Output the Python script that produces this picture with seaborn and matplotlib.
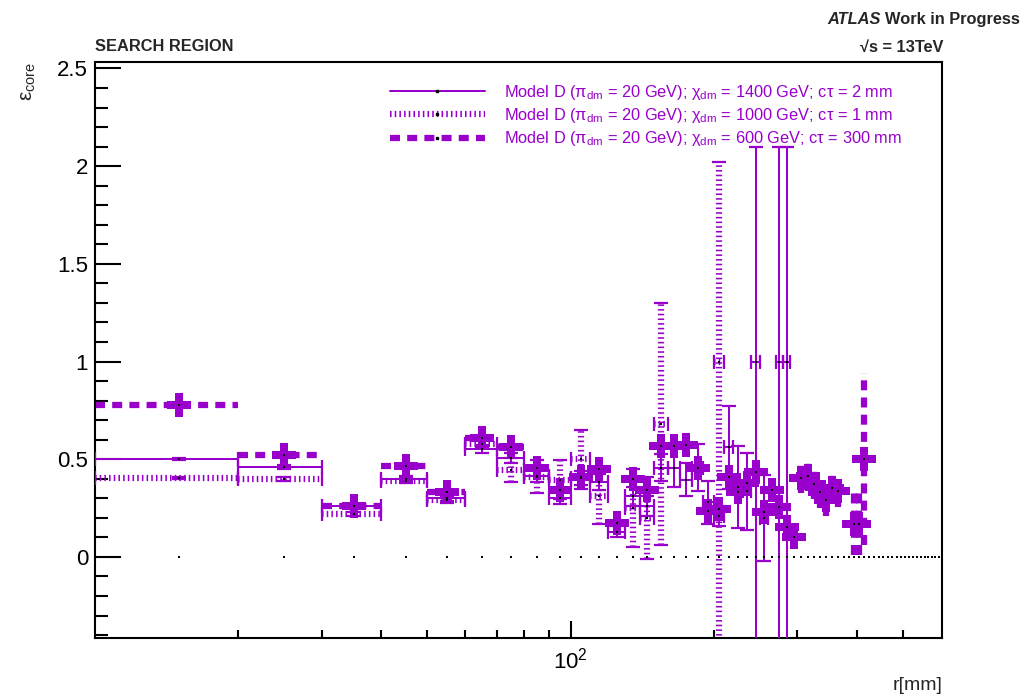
import numpy as np
import pandas as pd
import matplotlib
matplotlib.use("Agg")
import matplotlib.pyplot as plt
import seaborn as sns
from matplotlib.lines import Line2D
from matplotlib.ticker import FixedLocator, FixedFormatter, NullFormatter

VIOLET = "#9900cc"

# r binning: 10 mm wide bins from 10 mm to 600 mm
bin_edges = np.arange(10, 610, 10)
bin_centres = 0.5 * (bin_edges[:-1] + bin_edges[1:])
HALF_WIDTH = 5.0

# Model D, chi_dm = 1400 GeV, ctau = 2 mm
r_1400 = [15, 25, 35, 45, 55, 65, 75, 85, 95, 105, 115, 125, 135, 145, 155,
          165, 175, 185, 195, 205, 215, 225, 235, 245, 255, 275, 285]
eff_1400 = [0.503, 0.46, 0.26, 0.40, 0.30, 0.553, 0.505, 0.415, 0.30, 0.405,
            0.385, 0.13, 0.31, 0.26, 0.456, 0.456, 0.395, 0.456, 0.28, 0.21,
            0.56, 0.36, 0.335, 1.0, 0.20, 1.0, 1.0]
elo_1400 = [0.005, 0.01, 0.01, 0.012, 0.015, 0.02, 0.025, 0.03, 0.03, 0.035,
            0.04, 0.03, 0.05, 0.05, 0.07, 0.10, 0.085, 0.12, 0.11, 0.05,
            0.21, 0.21, 0.195, 1.45, 0.22, 1.45, 1.45]
ehi_1400 = [0.005, 0.01, 0.01, 0.012, 0.015, 0.02, 0.025, 0.03, 0.03, 0.035,
            0.04, 0.03, 0.05, 0.05, 0.07, 0.10, 0.085, 0.12, 0.11, 0.05,
            0.21, 0.21, 0.195, 1.1, 0.22, 1.1, 1.1]

# Model D, chi_dm = 1000 GeV, ctau = 1 mm
r_1000 = [15, 25, 35, 45, 55, 65, 75, 85, 95, 105, 115, 135, 145, 155, 205]
eff_1000 = [0.405, 0.40, 0.22, 0.39, 0.29, 0.58, 0.445, 0.41, 0.395, 0.50,
            0.31, 0.25, 0.20, 0.68, 1.0]
elo_1000 = [0.005, 0.01, 0.01, 0.012, 0.015, 0.02, 0.06, 0.085, 0.10, 0.15,
            0.14, 0.20, 0.21, 0.62, 1.45]
ehi_1000 = [0.005, 0.01, 0.01, 0.012, 0.015, 0.02, 0.06, 0.085, 0.10, 0.15,
            0.14, 0.20, 0.21, 0.62, 1.02]

# Model D, chi_dm = 600 GeV, ctau = 300 mm
r_600 = [15, 25, 35, 45, 55, 65, 75, 85, 95, 105, 115, 125, 135, 145, 155,
         165, 175, 185, 195, 205, 215, 225, 235, 245, 255, 265, 275, 285, 295,
         305, 315, 325, 335, 345, 355, 365, 395, 405, 415]
eff_600 = [0.78, 0.52, 0.26, 0.467, 0.333, 0.61, 0.563, 0.456, 0.343, 0.41,
           0.45, 0.173, 0.40, 0.343, 0.57, 0.57, 0.575, 0.456, 0.235, 0.245,
           0.41, 0.33, 0.38, 0.435, 0.23, 0.343, 0.256, 0.155, 0.10,
           0.405, 0.415, 0.375, 0.33, 0.29, 0.355, 0.335, 0.17, 0.17, 0.50]
err_600 = [0.01, 0.015, 0.015, 0.02, 0.025, 0.03, 0.03, 0.035, 0.035, 0.04,
           0.04, 0.03, 0.04, 0.05, 0.04, 0.04, 0.04, 0.05, 0.04, 0.04,
           0.05, 0.05, 0.05, 0.05, 0.05, 0.05, 0.05, 0.04, 0.03,
           0.08, 0.08, 0.08, 0.08, 0.08, 0.08, 0.08, 0.16, 0.16, 0.44]

labels = [
    r"Model D ($\pi_{\rm dm}$ = 20 GeV); $\chi_{\rm dm}$ = 1400 GeV; c$\tau$ = 2 mm",
    r"Model D ($\pi_{\rm dm}$ = 20 GeV); $\chi_{\rm dm}$ = 1000 GeV; c$\tau$ = 1 mm",
    r"Model D ($\pi_{\rm dm}$ = 20 GeV); $\chi_{\rm dm}$ = 600 GeV; c$\tau$ = 300 mm",
]

sns.set_theme(style="ticks")
plt.rcParams["font.family"] = ["Liberation Sans", "DejaVu Sans"]
plt.rcParams["mathtext.fontset"] = "custom"
plt.rcParams["mathtext.rm"] = "Liberation Sans"
plt.rcParams["mathtext.it"] = "Liberation Sans"
plt.rcParams["mathtext.bf"] = "Liberation Sans:bold"

SOLID_LW = 1.45
THICK_LW = 4.5
DOTTED = (0, (0.25, 0.5))
DASHED = (0, (1.6, 1.15))

fig = plt.figure(figsize=(10.26, 7.0), dpi=100)
ax = fig.add_axes([95 / 1026, 62 / 700, 847 / 1026, 576 / 700])
ax.set_facecolor("white")


def draw_bars(r, eff, elo, ehi, lw, style, capsize, z):
    eb = ax.errorbar(r, eff, xerr=HALF_WIDTH, yerr=[elo, ehi], fmt="none",
                     ecolor=VIOLET, elinewidth=lw, capsize=capsize,
                     capthick=1.6, zorder=z)
    for coll in eb[2]:
        coll.set_linestyle(style)
        coll.set_capstyle("butt")
    return eb


draw_bars(r_600, eff_600, err_600, err_600, THICK_LW, DASHED, 0, 2)
df600 = pd.DataFrame({"r": r_600, "eff": eff_600})
sns.scatterplot(data=df600, x="r", y="eff", marker="P", s=300, color=VIOLET,
                edgecolor=VIOLET, linewidth=0, ax=ax, zorder=3)
draw_bars(r_1000, eff_1000, elo_1000, ehi_1000, THICK_LW, DOTTED, 5, 4)
draw_bars(r_1400, eff_1400, elo_1400, ehi_1400, SOLID_LW, "-", 5, 5)

# black point markers at every bin content, plus the empty-bin row at zero
centres = pd.DataFrame({
    "r": list(r_1400) + list(r_1000) + list(r_600) + list(bin_centres),
    "eff": list(eff_1400) + list(eff_1000) + list(eff_600) + [0.0] * len(bin_centres),
})
sns.scatterplot(data=centres, x="r", y="eff", marker="s", s=2.2, color="black",
                linewidth=0, ax=ax, zorder=6)

ax.set_xscale("log")
ax.set_xlim(10, 604)
ax.set_ylim(-0.415, 2.533)

ax.xaxis.set_major_locator(FixedLocator([100]))
ax.xaxis.set_major_formatter(FixedFormatter([r"$10^{2}$"]))
ax.xaxis.set_minor_locator(FixedLocator([20, 30, 40, 50, 60, 70, 80, 90,
                                         200, 300, 400, 500]))
ax.xaxis.set_minor_formatter(NullFormatter())
ax.yaxis.set_major_locator(FixedLocator([0, 0.5, 1, 1.5, 2, 2.5]))
ax.yaxis.set_major_formatter(FixedFormatter(["0", "0.5", "1", "1.5", "2", "2.5"]))
ax.yaxis.set_minor_locator(FixedLocator(np.round(np.arange(-0.4, 2.55, 0.1), 2)))

ax.tick_params(axis="both", which="both", direction="in", top=False, right=False,
               width=1.5, colors="black", labelsize=16)
ax.tick_params(axis="y", which="major", length=18.5, pad=5)
ax.tick_params(axis="y", which="minor", length=9.3)
ax.tick_params(axis="x", which="major", length=12, pad=7)
ax.tick_params(axis="x", which="minor", length=6)
for side in ["left", "right", "top", "bottom"]:
    ax.spines[side].set_visible(True)
    ax.spines[side].set_linewidth(1.5)
    ax.spines[side].set_color("black")

ax.set_xlabel("r[mm]", fontsize=14, loc="right")
ax.xaxis.set_label_coords(1.0, -0.068)
ax.set_ylabel(r"$\varepsilon_{\rm core}$", fontsize=15, loc="top")
ax.yaxis.set_label_coords(-0.0675, 1.0)

ax.set_title("SEARCH REGION", loc="left", fontsize=11.8, fontweight="bold", pad=8)

wip = fig.text(1020 / 1026, 1 - 24 / 700, "Work in Progress", ha="right",
               va="baseline", fontsize=11.8, fontweight="bold")
ax.annotate("ATLAS ", xy=(0, 0), xycoords=wip, ha="right", va="bottom",
            fontsize=11.8, fontweight="bold", fontstyle="italic")
fig.text(943 / 1026, 1 - 52 / 700, "\u221as = 13TeV", ha="right", va="baseline",
         fontsize=11.8, fontweight="bold")

handles = [
    Line2D([], [], color=VIOLET, lw=SOLID_LW, ls="-", marker="s", ms=1.5,
           mfc="black", mec="black"),
    Line2D([], [], color=VIOLET, lw=THICK_LW, ls=DOTTED, marker="s", ms=1.5,
           mfc="black", mec="black", dash_capstyle="butt"),
    Line2D([], [], color=VIOLET, lw=THICK_LW, ls=DASHED, marker="s", ms=1.5,
           mfc="black", mec="black", dash_capstyle="butt"),
]
ax.legend(handles, labels, loc="upper left", bbox_to_anchor=(0.348, 0.964),
          frameon=False, fontsize=11.8, labelcolor=VIOLET, handlelength=5.8,
          handletextpad=1.2, labelspacing=0.26, borderpad=0, borderaxespad=0,
          numpoints=1)

fig.savefig("out.png", dpi=100)
